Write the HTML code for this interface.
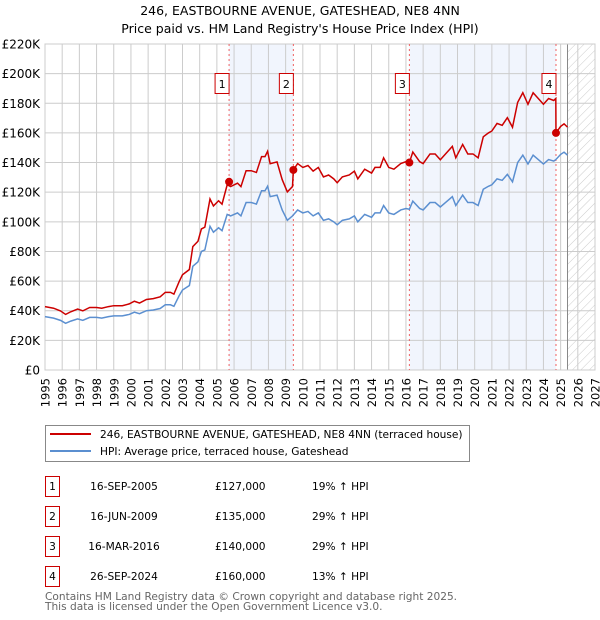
<!DOCTYPE html>
<html><head><meta charset="utf-8"><style>
body{margin:0;background:#fff;font-family:"DejaVu Sans","Liberation Sans",sans-serif;}
svg{display:block}
</style></head><body>
<svg id="c" width="600" height="620" xmlns="http://www.w3.org/2000/svg" font-family="DejaVu Sans, Liberation Sans, sans-serif">
<defs><pattern id="hatch" width="6" height="6" patternUnits="userSpaceOnUse" patternTransform="rotate(45)"><line x1="0" y1="0" x2="0" y2="6" stroke="#ccc" stroke-width="1"/></pattern></defs>
<text x="300" y="15" text-anchor="middle" font-size="12.5">246, EASTBOURNE AVENUE, GATESHEAD, NE8 4NN</text>
<text x="300" y="33" text-anchor="middle" font-size="12.5">Price paid vs. HM Land Registry's House Price Index (HPI)</text>
<g id="plot"></g>
<g>
<rect x="45.5" y="425.5" width="424" height="36" fill="#fff" stroke="#888"/>
<line x1="50" y1="434" x2="91" y2="434" stroke="#cc0000" stroke-width="2"/>
<text x="100" y="438" font-size="10.6">246, EASTBOURNE AVENUE, GATESHEAD, NE8 4NN (terraced house)</text>
<line x1="50" y1="451" x2="91" y2="451" stroke="#5b8fd0" stroke-width="2"/>
<text x="100" y="455" font-size="10.6">HPI: Average price, terraced house, Gateshead</text>
</g>
<g id="table" font-size="10.6"></g>
<text x="45" y="600" font-size="10.6" fill="#666">Contains HM Land Registry data © Crown copyright and database right 2025.</text>
<text x="45" y="610" font-size="10.6" fill="#666">This data is licensed under the Open Government Licence v3.0.</text>
</svg>
<script>
const hpiYears=[1995.0,1995.5,1995.9,1996.2,1996.5,1996.9,1997.2,1997.6,1998.0,1998.3,1998.7,1999.0,1999.5,1999.9,2000.2,2000.5,2000.9,2001.3,2001.7,2002.0,2002.3,2002.5,2002.8,2003.0,2003.4,2003.6,2003.9,2004.1,2004.3,2004.6,2004.8,2005.1,2005.3,2005.6,2005.8,2006.2,2006.4,2006.7,2007.0,2007.3,2007.6,2007.8,2007.95,2008.1,2008.5,2008.8,2009.1,2009.4,2009.7,2010.0,2010.3,2010.6,2010.9,2011.2,2011.5,2011.8,2012.0,2012.3,2012.7,2013.0,2013.2,2013.6,2014.0,2014.2,2014.5,2014.7,2015.0,2015.3,2015.7,2016.0,2016.2,2016.4,2016.8,2017.0,2017.4,2017.7,2018.0,2018.3,2018.7,2018.9,2019.3,2019.6,2019.9,2020.2,2020.5,2020.8,2021.0,2021.3,2021.6,2021.9,2022.2,2022.5,2022.8,2023.1,2023.4,2023.7,2024.0,2024.3,2024.6,2024.72,2025.0,2025.2,2025.4];
const hpiValues=[36,35,33.5,31.5,33,34.5,33.5,35.5,35.5,35,36,36.5,36.5,37.5,39,38,40,40.5,41.5,44,44,43,50,54,57,70,73,80,81,97,93,96,94,105,104,106,104,113,113,112,121,121,124,117,118,108,101,104,108,106,107,104,106,101,102,100,98,101,102,104,100,105,103,106,106,111,106,105,108,109,108.5,114,109,108,113,113,110,113,117,111,118,113,113,111,122,124,125,129,128,132,127,140,145,139,145,142,139,142,141,142,145.5,147,145];
const priceYears=[1995.0,1995.5,1995.9,1996.2,1996.5,1996.9,1997.2,1997.6,1998.0,1998.3,1998.7,1999.0,1999.5,1999.9,2000.2,2000.5,2000.9,2001.3,2001.7,2002.0,2002.3,2002.5,2002.8,2003.0,2003.4,2003.6,2003.9,2004.1,2004.3,2004.6,2004.8,2005.1,2005.3,2005.6,2005.8,2006.2,2006.4,2006.7,2007.0,2007.3,2007.6,2007.8,2007.95,2008.1,2008.5,2008.8,2009.1,2009.4,2009.45,2009.7,2010.0,2010.3,2010.6,2010.9,2011.2,2011.5,2011.8,2012.0,2012.3,2012.7,2013.0,2013.2,2013.6,2014.0,2014.2,2014.5,2014.7,2015.0,2015.3,2015.7,2016.0,2016.2,2016.4,2016.8,2017.0,2017.4,2017.7,2018.0,2018.3,2018.7,2018.9,2019.3,2019.6,2019.9,2020.2,2020.5,2020.8,2021.0,2021.3,2021.6,2021.9,2022.2,2022.5,2022.8,2023.1,2023.4,2023.7,2024.0,2024.3,2024.6,2024.72,2024.73,2025.0,2025.2,2025.4];
const priceValues=[42.8,41.7,39.9,37.5,39.3,41.1,39.9,42.2,42.2,41.7,42.8,43.4,43.4,44.6,46.4,45.2,47.6,48.2,49.4,52.4,52.4,51.2,59.5,64.3,67.8,83.3,86.9,95.2,96.4,115.4,110.7,114.2,111.9,125,123.8,126.1,123.8,134.5,134.5,133.3,144,144,147.6,139.2,140.4,128.5,120.2,123.8,135,139.3,136.7,138,134.2,136.7,130.3,131.6,129,126.4,130.3,131.6,134.2,129,135.5,132.9,136.7,136.7,143.2,136.7,135.5,139.3,140.6,140,147.1,140.6,139.3,145.8,145.8,141.9,145.8,150.9,143.2,152.2,145.8,145.8,143.2,157.4,160,161.3,166.4,165.1,170.3,163.8,180.6,187.1,179.3,187.1,183.2,179.3,183.2,181.9,183.2,160,164.4,166.1,163.9];
const saleLabels=["1","2","3","4"];
const saleYears=[2005.71,2009.45,2016.2,2024.73];
const salePrices=[127,135,140,160];
const saleDates=["16-SEP-2005","16-JUN-2009","16-MAR-2016","26-SEP-2024"];
const salePriceText=["£127,000","£135,000","£140,000","£160,000"];
const saleHpiText=["19% ↑ HPI","29% ↑ HPI","29% ↑ HPI","13% ↑ HPI"];
const yTicks=[0,20,40,60,80,100,120,140,160,180,200,220];
const yTickLabels=["£0","£20K","£40K","£60K","£80K","£100K","£120K","£140K","£160K","£180K","£200K","£220K"];
const xTicks=[1995,1996,1997,1998,1999,2000,2001,2002,2003,2004,2005,2006,2007,2008,2009,2010,2011,2012,2013,2014,2015,2016,2017,2018,2019,2020,2021,2022,2023,2024,2025,2026,2027];
const dataEnd=2025.4;

const L=45,R=595,T=44,B=370,x0=1995,x1=2027,yMax=220;
const X=v=>L+(v-x0)/(x1-x0)*(R-L);
const Y=v=>B-v/yMax*(B-T);
const NS="http://www.w3.org/2000/svg";
const plot=document.getElementById('plot');
function mk(tag,attrs,parent,text){const e=document.createElementNS(NS,tag);for(const k in attrs)e.setAttribute(k,attrs[k]);if(text!==undefined)e.textContent=text;(parent||plot).appendChild(e);return e;}

mk('rect',{x:L,y:T,width:R-L,height:B-T,fill:'#fff'});
for(let i=0;i<saleYears.length;i+=2){
  const s=mk('rect',{x:X(saleYears[i]),y:T,width:X(saleYears[i+1])-X(saleYears[i]),height:B-T,fill:'#eef3fc',opacity:0.8});
  
  
}
const h=mk('rect',{x:X(dataEnd),y:T,width:R-X(dataEnd),height:B-T,fill:'url(#hatch)'});


yTicks.forEach((t,i)=>{
  mk('line',{x1:L,x2:R,y1:Y(t),y2:Y(t),stroke:'#ccc','stroke-width':1});
  const lb=mk('text',{x:40,y:Y(t)+4.5,'text-anchor':'end','font-size':12},plot,yTickLabels[i]);
  
  
});
xTicks.forEach(t=>{
  mk('line',{x1:X(t),x2:X(t),y1:T,y2:B,stroke:'#ccc','stroke-width':1});
  const lb=mk('text',{x:X(t)+4.5,y:378,'text-anchor':'end','font-size':11.5,transform:`rotate(-90 ${X(t)+4.5} 378)`},plot,String(t));
  
  
});
mk('line',{x1:X(dataEnd),x2:X(dataEnd),y1:T,y2:B,stroke:'#888','stroke-width':1});
mk('rect',{x:L,y:T,width:R-L,height:B-T,fill:'none',stroke:'#ccc'});
saleYears.forEach((s,i)=>{
  const v=mk('line',{x1:X(s),x2:X(s),y1:T,y2:B,stroke:'#f06060','stroke-width':1,'stroke-dasharray':'2,3'});
  
  
});
const hp=mk('polyline',{points:hpiYears.map((y,i)=>X(y)+','+Y(hpiValues[i])).join(' '),fill:'none',stroke:'#5b8fd0','stroke-width':1.5});


const pp=mk('polyline',{points:priceYears.map((y,i)=>X(y)+','+Y(priceValues[i])).join(' '),fill:'none',stroke:'#cc0000','stroke-width':1.5});


saleYears.forEach((s,i)=>{
  const d=mk('circle',{cx:X(s),cy:Y(salePrices[i]),r:4,fill:'#cc0000'});
  
  
  const bx=mk('rect',{x:X(s)-14,y:73.5,width:14,height:20,fill:'#fff',stroke:'#cc0000'});
  
  
  mk('text',{x:X(s)-7,y:88,'text-anchor':'middle','font-size':11},plot,saleLabels[i]);
});
const tb=document.getElementById('table');
saleYears.forEach((s,i)=>{
  const yy=476+i*30;
  const r=mk('rect',{x:45.5,y:yy+0.5,width:14,height:20,fill:'#fff',stroke:'#cc0000'},tb);
  
  
  mk('text',{x:52.5,y:yy+14,'text-anchor':'middle'},tb,saleLabels[i]);
  const d=mk('text',{x:124,y:yy+14,'text-anchor':'middle'},tb,saleDates[i]);
  
  
  const p=mk('text',{x:215,y:yy+14},tb,salePriceText[i]);
  
  
  const q=mk('text',{x:312,y:yy+14},tb,saleHpiText[i]);
  
  
});
</script>
</body></html>
